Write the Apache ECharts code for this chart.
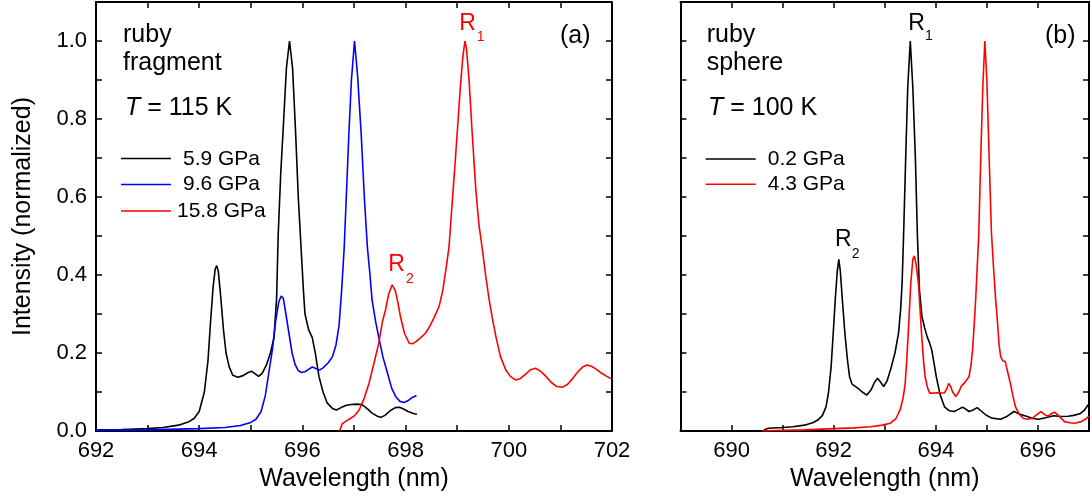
<!DOCTYPE html>
<html>
<head>
<meta charset="utf-8">
<script src="https://cdn.jsdelivr.net/npm/echarts@6/dist/echarts.min.js"></script>
<style>
html,body{margin:0;padding:0;background:#fff;}
#chart{width:1092px;height:498px;}
</style>
</head>
<body>
<div id="chart"></div>
<script>
// ---------- Panel (a): ruby fragment, T = 115 K ----------
var wlA59 = [692.0,692.5,693.0,693.3,693.6,693.8,693.9,694.0,694.1,694.17,694.22,694.27,694.31,694.34,694.37,694.42,694.47,694.52,694.58,694.65,694.75,694.85,694.95,695.02,695.08,695.15,695.22,695.3,695.38,695.45,695.5,695.53,695.58,695.63,695.69,695.75,695.81,695.87,695.92,695.97,696.02,696.05,696.12,696.19,696.25,696.32,696.4,696.48,696.58,696.66,696.75,696.85,696.95,697.05,697.15,697.25,697.35,697.45,697.52,697.6,697.7,697.8,697.88,697.95,698.05,698.15,698.22];
var inA59 = [0.003,0.004,0.006,0.009,0.015,0.024,0.032,0.05,0.1,0.18,0.28,0.37,0.415,0.424,0.41,0.34,0.26,0.2,0.165,0.143,0.138,0.142,0.15,0.153,0.147,0.14,0.148,0.168,0.2,0.24,0.34,0.5,0.66,0.78,0.93,1.0,0.93,0.76,0.6,0.48,0.36,0.3,0.26,0.24,0.2,0.14,0.1,0.072,0.058,0.054,0.06,0.066,0.068,0.069,0.068,0.058,0.046,0.038,0.035,0.04,0.052,0.06,0.061,0.057,0.05,0.045,0.043];

var wlA96 = [692.0,693.0,694.0,694.5,694.8,695.0,695.1,695.2,695.28,695.35,695.42,695.48,695.54,695.59,695.63,695.68,695.74,695.8,695.86,695.92,695.98,696.05,696.12,696.19,696.26,696.33,696.4,696.5,696.58,696.65,696.71,696.76,696.81,696.86,696.9,696.95,697.01,697.07,697.14,697.2,697.26,697.31,697.35,697.42,697.48,697.56,697.65,697.73,697.81,697.89,697.97,698.05,698.13,698.21];
var inA96 = [0.002,0.003,0.006,0.009,0.014,0.022,0.03,0.05,0.09,0.15,0.21,0.28,0.33,0.346,0.34,0.3,0.25,0.2,0.17,0.155,0.15,0.152,0.158,0.164,0.16,0.156,0.162,0.175,0.19,0.22,0.27,0.36,0.47,0.63,0.76,0.9,1.0,0.91,0.76,0.6,0.47,0.4,0.336,0.28,0.24,0.19,0.148,0.11,0.088,0.076,0.073,0.078,0.086,0.091];

var wlA158 = [696.72,696.77,696.85,696.93,697.0,697.1,697.2,697.29,697.38,697.48,697.55,697.61,697.67,697.74,697.8,697.85,697.9,697.98,698.07,698.14,698.2,698.3,698.38,698.45,698.55,698.65,698.72,698.78,698.84,698.9,698.95,699.0,699.06,699.11,699.15,699.18,699.23,699.29,699.36,699.42,699.49,699.55,699.62,699.68,699.75,699.84,699.94,700.03,700.13,700.22,700.32,700.42,700.52,700.62,700.72,700.82,700.93,701.04,701.14,701.24,701.34,701.44,701.52,701.6,701.7,701.8,701.9,702.0];
var inA158 = [0.0,0.018,0.026,0.032,0.038,0.054,0.085,0.122,0.17,0.225,0.28,0.31,0.35,0.375,0.36,0.33,0.293,0.25,0.225,0.224,0.229,0.24,0.25,0.264,0.29,0.32,0.36,0.413,0.47,0.58,0.67,0.764,0.88,0.96,1.0,0.98,0.9,0.764,0.62,0.53,0.464,0.4,0.336,0.29,0.242,0.19,0.157,0.14,0.131,0.134,0.145,0.157,0.161,0.153,0.14,0.125,0.114,0.112,0.12,0.135,0.152,0.165,0.169,0.166,0.158,0.148,0.14,0.133];

// ---------- Panel (b): ruby sphere, T = 100 K ----------
var wlB02 = [690.62,690.66,690.72,691.0,691.2,691.43,691.6,691.69,691.78,691.85,691.9,691.95,692.0,692.03,692.07,692.1,692.13,692.17,692.22,692.27,692.31,692.36,692.47,692.56,692.65,692.73,692.8,692.86,692.92,692.98,693.05,693.12,693.2,693.27,693.31,693.34,693.37,693.41,693.45,693.5,693.55,693.6,693.64,693.68,693.73,693.78,693.83,693.88,693.92,693.97,694.01,694.08,694.17,694.26,694.36,694.45,694.52,694.58,694.65,694.73,694.81,694.9,694.98,695.1,695.27,695.4,695.53,695.65,695.79,695.9,696.01,696.15,696.3,696.45,696.59,696.7,696.82,696.9,697.0];
var inB02 = [0.0,0.004,0.007,0.009,0.011,0.015,0.022,0.028,0.04,0.062,0.1,0.165,0.27,0.336,0.41,0.44,0.41,0.336,0.25,0.182,0.14,0.12,0.11,0.1,0.092,0.105,0.125,0.135,0.125,0.114,0.13,0.16,0.2,0.251,0.31,0.379,0.507,0.7,0.88,1.0,0.88,0.7,0.5,0.36,0.293,0.265,0.242,0.225,0.208,0.17,0.139,0.095,0.062,0.052,0.05,0.056,0.061,0.057,0.05,0.054,0.06,0.05,0.041,0.033,0.03,0.038,0.05,0.043,0.037,0.032,0.03,0.034,0.039,0.037,0.038,0.04,0.044,0.052,0.07];

var wlB43 = [690.6,691.0,691.43,692.0,692.4,692.72,692.95,693.11,693.22,693.3,693.36,693.4,693.43,693.46,693.51,693.55,693.58,693.61,693.66,693.72,693.76,693.79,693.84,693.88,693.95,694.01,694.1,694.17,694.22,694.25,694.29,694.33,694.39,694.45,694.5,694.55,694.6,694.65,694.69,694.72,694.75,694.78,694.84,694.88,694.92,694.96,695.0,695.04,695.09,695.13,695.17,695.2,695.24,695.27,695.31,695.36,695.41,695.46,695.51,695.56,695.64,695.72,695.8,695.88,695.96,696.06,696.13,696.2,696.27,696.33,696.4,696.52,696.62,696.72,696.85,696.95,697.0];
var inB43 = [0.0,0.002,0.003,0.006,0.008,0.011,0.015,0.02,0.032,0.054,0.085,0.122,0.18,0.251,0.379,0.44,0.449,0.43,0.379,0.251,0.18,0.139,0.11,0.097,0.097,0.098,0.097,0.098,0.11,0.122,0.115,0.1,0.088,0.1,0.115,0.122,0.13,0.139,0.17,0.208,0.27,0.336,0.5,0.7,0.88,1.0,0.9,0.72,0.507,0.42,0.34,0.293,0.22,0.191,0.18,0.178,0.15,0.122,0.09,0.062,0.042,0.032,0.03,0.032,0.04,0.05,0.042,0.038,0.045,0.048,0.04,0.024,0.021,0.02,0.024,0.032,0.038];

var legendA = ['5.9 GPa','9.6 GPa','15.8 GPa'];
var legendB = ['0.2 GPa','4.3 GPa'];
var colorsA = ['#000000','#0000ff','#ff0000'];
var colorsB = ['#000000','#ff0000'];

function zip(xs, ys){ var out=[]; for(var i=0;i<xs.length;i++) out.push([xs[i], ys[i]]); return out; }

var FONT = "'Liberation Sans', Arial, sans-serif";

function xAx(gi, pos, mn, mx, labels){
  return {
    type:'value', gridIndex:gi, position:pos, min:mn, max:mx, interval:1,
    axisLine:{show:true, onZero:false, lineStyle:{color:'#000', width:2}},
    axisTick:{show:true, inside:true, length:6, lineStyle:{color:'#000', width:1.5}},
    splitLine:{show:false},
    axisLabel:{show:labels, margin:9, fontSize:22, fontFamily:FONT, color:'#000',
      formatter:function(v){ var r=Math.round(v); return (r%2===0)? String(r) : ''; }},
    name: labels ? 'Wavelength (nm)' : '',
    nameLocation:'middle', nameGap:32,
    nameTextStyle:{fontSize:25, fontFamily:FONT, color:'#000'}
  };
}
function yAx(gi, pos, labels, name){
  return {
    type:'value', gridIndex:gi, position:pos, min:0, max:1.1, interval:0.1,
    axisLine:{show:true, onZero:false, lineStyle:{color:'#000', width:2}},
    axisTick:{show:true, inside:true, length:6, lineStyle:{color:'#000', width:1.5}},
    splitLine:{show:false},
    axisLabel:{show:labels, margin:9, fontSize:22, fontFamily:FONT, color:'#000',
      formatter:function(v){ var r=Math.round(v*10); return (r%2===0)? (r/10).toFixed(1) : ''; }},
    name: name || '',
    nameLocation:'middle', nameGap:60,
    nameTextStyle:{fontSize:25, fontFamily:FONT, color:'#000'}
  };
}
function txt(x, y, s, size, color, align){
  return {type:'text', x:x, y:y, silent:true,
    style:{text:s, fontSize:size, fontFamily:FONT, fill:color||'#000',
      align:align||'left', textAlign:align||'left', verticalAlign:'middle', textVerticalAlign:'middle'}};
}
function tText(x, y, s){
  return {type:'text', x:x, y:y, silent:true,
    style:{text:'{i|T}{n|'+s+'}', fontSize:25, fontFamily:FONT, fill:'#000',
      align:'left', textAlign:'left', verticalAlign:'middle', textVerticalAlign:'middle',
      rich:{i:{fontStyle:'italic', fontSize:25, fontFamily:FONT, fill:'#000'},
            n:{fontSize:25, fontFamily:FONT, fill:'#000'}}}};
}
function seg(x1, x2, y, color){
  return {type:'line', silent:true, shape:{x1:x1, y1:y, x2:x2, y2:y}, style:{stroke:color, lineWidth:1.5}};
}

var chart = echarts.init(document.getElementById('chart'), null, {renderer:'canvas'});
var option = {
  animation:false,
  backgroundColor:'#fff',
  grid:[
    {left:96, top:2, width:516, height:429},
    {left:680.5, top:2, width:413.6, height:429}
  ],
  xAxis:[ xAx(0,'bottom',692,702,true), xAx(0,'top',692,702,false),
          xAx(1,'bottom',689,697,true), xAx(1,'top',689,697,false) ],
  yAxis:[ yAx(0,'left',true,'Intensity (normalized)'), yAx(0,'right',false),
          yAx(1,'left',false), yAx(1,'right',false) ],
  series:[
    {type:'line', name:legendA[0], xAxisIndex:0, yAxisIndex:0, data:zip(wlA59,inA59), showSymbol:false, lineStyle:{color:colorsA[0], width:1.6}},
    {type:'line', name:legendA[1], xAxisIndex:0, yAxisIndex:0, data:zip(wlA96,inA96), showSymbol:false, lineStyle:{color:colorsA[1], width:1.6}},
    {type:'line', name:legendA[2], xAxisIndex:0, yAxisIndex:0, data:zip(wlA158,inA158), showSymbol:false, lineStyle:{color:colorsA[2], width:1.6}},
    {type:'line', name:legendB[0], xAxisIndex:2, yAxisIndex:2, data:zip(wlB02,inB02), showSymbol:false, lineStyle:{color:colorsB[0], width:1.6}},
    {type:'line', name:legendB[1], xAxisIndex:2, yAxisIndex:2, data:zip(wlB43,inB43), showSymbol:false, lineStyle:{color:colorsB[1], width:1.6}}
  ],
  graphic:[
    txt(123,35.5,'ruby',25), txt(123,63.5,'fragment',25), tText(125,108,' = 115 K'),
    seg(121,171,158.5,colorsA[0]), seg(121,171,184.5,colorsA[1]), seg(121,171,211,colorsA[2]),
    txt(183,159,legendA[0],21), txt(183,184.5,legendA[1],21), txt(177,211,legendA[2],21),
    txt(560,36,'(a)',25),
    txt(459.3,23.5,'R',23,'#ff0000'), txt(476.7,37,'1',14,'#ff0000'),
    txt(388.3,264.5,'R',23,'#ff0000'), txt(406,279,'2',14,'#ff0000'),

    txt(706.7,35.5,'ruby',25), txt(706.7,63.5,'sphere',25), tText(708,108,' = 100 K'),
    seg(705.7,755.7,159,colorsB[0]), seg(705.7,755.7,184.3,colorsB[1]),
    txt(767.7,159,legendB[0],21), txt(767.7,184.3,legendB[1],21),
    txt(1045,36,'(b)',25),
    txt(908.3,24,'R',23), txt(925,36,'1',14),
    txt(835,240,'R',23), txt(851.7,254,'2',14)
  ]
};
chart.setOption(option);
</script>
</body>
</html>
